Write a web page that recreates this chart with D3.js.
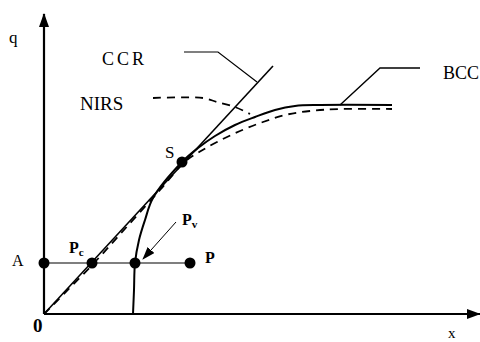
<!DOCTYPE html>
<html>
<head>
<meta charset="utf-8">
<script src="https://cdn.jsdelivr.net/npm/d3@7"></script>
<style>
  html, body { margin: 0; padding: 0; background: #fff; }
  svg { display: block; }
</style>
</head>
<body>
<svg id="chart" width="480" height="342"></svg>
<script>
// Production frontier diagram: input x on the horizontal axis, output q on the vertical.

// Constant-returns (CCR) frontier: a ray from the origin
const ccrLine = [[0, 0], [11.45, 12.4]];

// Variable-returns (BCC) frontier
const bccCurve = [
  [4.45, 0], [4.5, 1.2], [4.55, 2.55], [4.75, 3.7], [5.05, 4.7], [5.45, 5.8],
  [6.9, 7.6], [7.7, 8.3], [8.55, 8.9], [9.55, 9.45], [10.55, 9.85],
  [11.55, 10.2], [12.55, 10.4], [13.8, 10.45], [17.4, 10.45]
];

// Non-increasing returns (NIRS) frontier, dashed
const nirsCurve = [
  [0, 0], [2.5, 2.55], [4.22, 4.45], [5.8, 6.2], [7.05, 7.62], [7.8, 8.12],
  [8.65, 8.6], [9.8, 9.15], [10.95, 9.6], [12.05, 9.95], [13.3, 10.15],
  [14.8, 10.25], [17.4, 10.25]
];

// Projection line from A through the frontiers to the unit P
const projection = [[0, 2.55], [7.3, 2.55]];

// Marked points
const pointNames = ["A", "Pc", "Pv", "P", "S"];
const pointX = [0, 2.4, 4.55, 7.3, 6.9];
const pointY = [2.55, 2.55, 2.55, 2.55, 7.6];

// Leader lines linking labels to frontiers
const ccrLeader = [[7.0, 13.1], [8.7, 13.1], [10.65, 11.6]];
const nirsLeader = [[5.45, 10.8], [7.95, 10.8], [8.65, 10.6], [9.55, 10.35], [10.3, 10.0]];
const bccLeader = [[18.8, 12.3], [16.8, 12.3], [14.8, 10.45]];
const pvArrow = [[6.6, 4.6], [4.95, 2.75]];

// Text labels: [text, subscript, x, y, size, weight, letter spacing]
const labels = [
  ["q", "", -1.75, 13.55, 17, "normal", 0],
  ["CCR", "", 2.9, 12.45, 18, "normal", 3],
  ["NIRS", "", 1.8, 10.2, 19, "normal", 0],
  ["BCC", "", 19.95, 11.75, 18, "normal", 0],
  ["S", "", 6.05, 7.8, 17, "normal", 0],
  ["A", "", -1.6, 2.4, 16, "normal", 0],
  ["P", "c", 1.25, 3.05, 16, "bold", 0],
  ["P", "v", 6.9, 4.45, 16, "bold", 0],
  ["P", "", 8.05, 2.55, 16, "bold", 0],
  ["0", "", -0.55, -0.9, 19, "bold", 0],
  ["x", "", 20.2, -1.2, 15, "normal", 0]
];

const svg = d3.select("#chart");
const x = d3.scaleLinear().domain([0, 21.8]).range([44, 480]);
const y = d3.scaleLinear().domain([0, 15]).range([314, 14]);

const straight = d3.line().x(d => x(d[0])).y(d => y(d[1]));
const smooth = d3.line().x(d => x(d[0])).y(d => y(d[1])).curve(d3.curveCatmullRom.alpha(0.5));

// Arrow markers
const defs = svg.append("defs");
defs.append("marker")
  .attr("id", "axisHead").attr("viewBox", "0 0 14 10")
  .attr("refX", 13).attr("refY", 5)
  .attr("markerWidth", 14).attr("markerHeight", 10)
  .attr("markerUnits", "userSpaceOnUse").attr("orient", "auto")
  .append("path").attr("d", "M0,0 L14,5 L0,10 Z").attr("fill", "#000");
defs.append("marker")
  .attr("id", "thinHead").attr("viewBox", "0 0 13 9")
  .attr("refX", 12).attr("refY", 4.5)
  .attr("markerWidth", 13).attr("markerHeight", 9)
  .attr("markerUnits", "userSpaceOnUse").attr("orient", "auto")
  .append("path").attr("d", "M0,0 L13,4.5 L0,9 Z").attr("fill", "#000");

// Axes
svg.append("line")
  .attr("x1", x(0)).attr("y1", y(0)).attr("x2", x(0)).attr("y2", y(15))
  .attr("stroke", "#000").attr("stroke-width", 2.2).attr("marker-end", "url(#axisHead)");
svg.append("line")
  .attr("x1", x(0)).attr("y1", y(0)).attr("x2", x(21.8)).attr("y2", y(0))
  .attr("stroke", "#000").attr("stroke-width", 2.2).attr("marker-end", "url(#axisHead)");

// Horizontal projection line
svg.append("path").attr("d", straight(projection))
  .attr("fill", "none").attr("stroke", "#000").attr("stroke-width", 1.2);

// Frontiers
svg.append("path").attr("d", straight(ccrLine))
  .attr("fill", "none").attr("stroke", "#000").attr("stroke-width", 1.6);
svg.append("path").attr("d", smooth(nirsCurve))
  .attr("fill", "none").attr("stroke", "#000").attr("stroke-width", 1.8)
  .attr("stroke-dasharray", "8,6");
svg.append("path").attr("d", smooth(bccCurve))
  .attr("fill", "none").attr("stroke", "#000").attr("stroke-width", 2);

// Leaders
svg.append("path").attr("d", straight(ccrLeader))
  .attr("fill", "none").attr("stroke", "#000").attr("stroke-width", 1.2);
svg.append("path").attr("d", smooth(nirsLeader))
  .attr("fill", "none").attr("stroke", "#000").attr("stroke-width", 1.8)
  .attr("stroke-dasharray", "8,6");
svg.append("path").attr("d", straight(bccLeader))
  .attr("fill", "none").attr("stroke", "#000").attr("stroke-width", 1.4);
svg.append("path").attr("d", straight(pvArrow))
  .attr("fill", "none").attr("stroke", "#000").attr("stroke-width", 1)
  .attr("marker-end", "url(#thinHead)");

// Points
svg.selectAll("circle.pt")
  .data(pointNames.map((n, i) => ({ n, px: pointX[i], py: pointY[i] })))
  .join("circle")
  .attr("class", "pt")
  .attr("cx", d => x(d.px)).attr("cy", d => y(d.py))
  .attr("r", 5.5).attr("fill", "#000");

// Labels
labels.forEach(([t, sub, lx, ly, size, weight, spacing]) => {
  const el = svg.append("text")
    .attr("x", x(lx)).attr("y", y(ly))
    .attr("font-family", "Liberation Serif")
    .attr("fill", "#000")
    .attr("font-size", size).attr("font-weight", weight)
    .attr("letter-spacing", spacing);
  el.append("tspan").text(t);
  if (sub) {
    el.append("tspan").attr("dy", 3).attr("font-size", size * 0.7).text(sub);
  }
});
</script>
</body>
</html>
